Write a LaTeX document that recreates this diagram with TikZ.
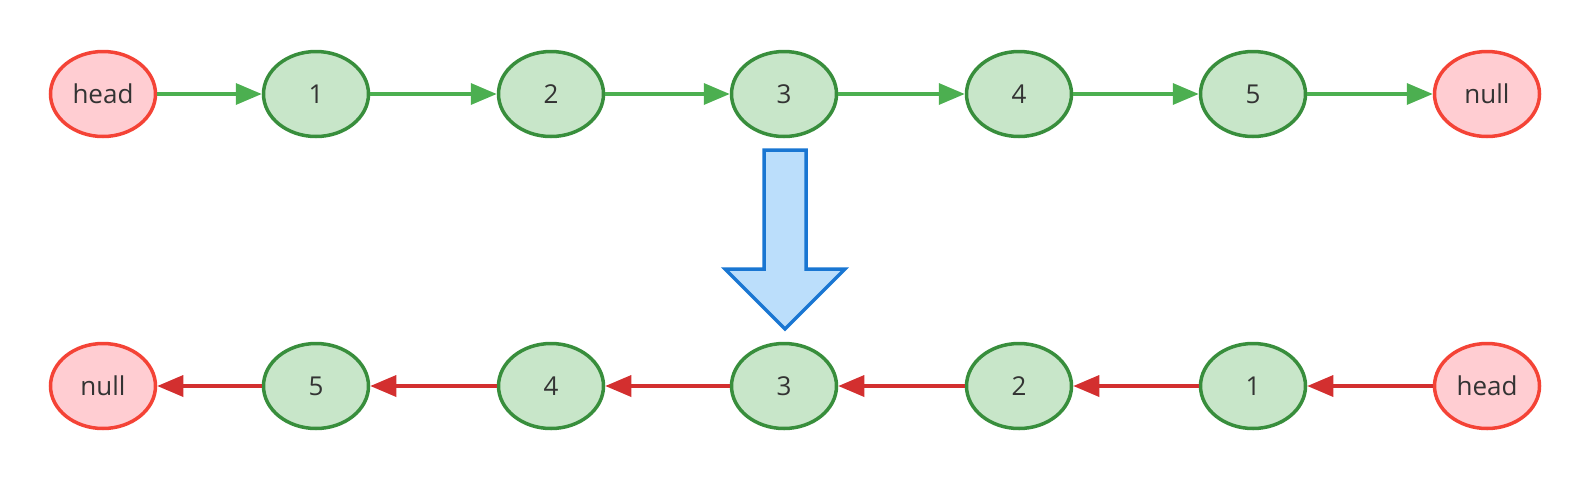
\documentclass[tikz,border=0pt]{standalone}
\usepackage{fontspec}
\setmainfont{Open Sans}
\usetikzlibrary{arrows.meta,shapes.geometric}
\definecolor{gfill}{HTML}{C8E6C9}
\definecolor{gdraw}{HTML}{388E3C}
\definecolor{rfill}{HTML}{FFCDD2}
\definecolor{rdraw}{HTML}{F44336}
\definecolor{garrow}{HTML}{4CAF50}
\definecolor{rarrow}{HTML}{D32F2F}
\definecolor{bfill}{HTML}{BBDEFB}
\definecolor{bdraw}{HTML}{1976D2}
\definecolor{txt}{HTML}{333333}
\tikzset{
  base/.style={ellipse,line width=3.5pt,minimum width=105pt,minimum height=85pt,inner sep=0pt,text=txt,font=\fontsize{26}{30}\selectfont},
  lnode/.style={base,draw=gdraw,fill=gfill},
  enode/.style={base,draw=rdraw,fill=rfill},
  garr/.style={draw=garrow,line width=3.5pt,-{Triangle[length=26pt,width=21pt]}},
  rarr/.style={draw=rarrow,line width=3.5pt,-{Triangle[length=26pt,width=21pt]}},
}
\begin{document}
\begin{tikzpicture}[x=1pt,y=-1pt]
\useasboundingbox (0,0) rectangle (1590,480);
% top row
\node[enode] (th) at (103,94) {head};
\node[lnode] (t1) at (316,94) {1};
\node[lnode] (t2) at (551,94) {2};
\node[lnode] (t3) at (784,94) {3};
\node[lnode] (t4) at (1019,94) {4};
\node[lnode] (t5) at (1253,94) {5};
\node[enode] (tn) at (1487,94) {null};
\draw[garr] (th) -- (t1);
\draw[garr] (t1) -- (t2);
\draw[garr] (t2) -- (t3);
\draw[garr] (t3) -- (t4);
\draw[garr] (t4) -- (t5);
\draw[garr] (t5) -- (tn);
% bottom row
\node[enode] (bn) at (103,386) {null};
\node[lnode] (b5) at (316,386) {5};
\node[lnode] (b4) at (551,386) {4};
\node[lnode] (b3) at (784,386) {3};
\node[lnode] (b2) at (1019,386) {2};
\node[lnode] (b1) at (1253,386) {1};
\node[enode] (bh) at (1487,386) {head};
\draw[rarr] (bh) -- (b1);
\draw[rarr] (b1) -- (b2);
\draw[rarr] (b2) -- (b3);
\draw[rarr] (b3) -- (b4);
\draw[rarr] (b4) -- (b5);
\draw[rarr] (b5) -- (bn);
% big arrow
\draw[draw=bdraw,fill=bfill,line width=3.5pt,line join=miter]
  (764,150) -- (806,150) -- (806,269) -- (845,269) -- (785,329) -- (725,269) -- (764,269) -- cycle;
\end{tikzpicture}
\end{document}
